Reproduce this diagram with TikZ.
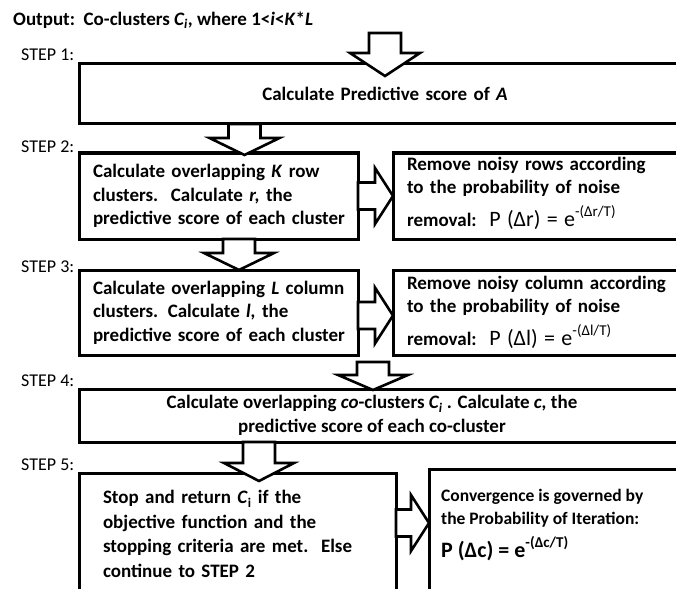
\documentclass[tikz,border=0pt]{standalone}
\usepackage{fontspec}
\setmainfont{Carlito}
\usetikzlibrary{positioning, calc}

\tikzset{
  box/.style={draw, line width=3pt, outer sep=0pt, inner xsep=14pt, align=left,
    font=\bfseries\fontsize{19}{23.5}\selectfont},
  boxtext/.style={inner sep=0pt, font=\bfseries\fontsize{19}{23.5}\selectfont},
  steplabel/.style={anchor=west, inner sep=0pt, font=\fontsize{18}{20}\selectfont},
  blockarrow/.style={draw, fill=white, line width=2.6pt, line join=miter},
}

% hollow block arrows: start point, tip point
\newcommand{\blockdown}[3][18pt]{%
  \draw[blockarrow] let \p1=(#2), \p2=(#3) in
    (\x2-16pt,\y1) -- (\x2-16pt,\y2+#1) -- (\x2-35pt,\y2+#1) -- (\p2)
    -- (\x2+35pt,\y2+#1) -- (\x2+16pt,\y2+#1) -- (\x2+16pt,\y1) -- cycle;}
\newcommand{\blockright}[2]{%
  \draw[blockarrow] let \p1=(#1), \p2=(#2) in
    (\x1,\y2+13.5pt) -- (\x2-18pt,\y2+13.5pt) -- (\x2-18pt,\y2+28pt) -- (\p2)
    -- (\x2-18pt,\y2-28pt) -- (\x2-18pt,\y2-13.5pt) -- (\x1,\y2-13.5pt) -- cycle;}
\newcommand{\probof}[2][\mdseries]{{#1\fontsize{22}{22}\selectfont P (Δ#2) = e\raisebox{10pt}{\fontsize{15}{15}\selectfont -(Δ#2/T)}}}

\begin{document}
\begin{tikzpicture}[x=1pt, y=-1pt]
\useasboundingbox (0,0) rectangle (676,588);
\clip (0,0) rectangle (676,588);

\node[anchor=west, inner sep=0pt, font=\bfseries\fontsize{19}{23}\selectfont] (title) at (13,20)
  {Output:\ \ Co-clusters \textit{C\textsubscript{i}}, where 1<\textit{i}<\textit{K}*\textit{L}};

\foreach \n/\ypos in {1/55,2/147,3/267,4/381,5/465}
  \node[steplabel] (step\n) at (21,\ypos) {STEP \n:};

% boxes
\node[box, anchor=north west, minimum width=612pt, minimum height=60pt, text width=584pt, align=center] (b1) at (79,64)
  {Calculate Predictive score of \textit{A}};
\node[box, below=29pt of b1.south west, anchor=north west, minimum width=279pt, minimum height=86pt, text width=251pt] (b2)
  {\mbox{Calculate overlapping \textit{K} row}\\ \mbox{clusters.\ \ Calculate \textit{r,} the}\\ \mbox{predictive score of each cluster}};
\node[box, right=35pt of b2, minimum width=327pt, minimum height=86pt, text width=299pt] (r2)
  {\mbox{Remove noisy rows according}\\ \mbox{to the probability of noise}\\[8pt] \mbox{removal:\ \ \probof{r}}\rule[-8pt]{0pt}{1pt}};
\node[box, below=31pt of b2.south west, anchor=north west, minimum width=279pt, minimum height=85pt, text width=251pt] (b3)
  {\mbox{Calculate overlapping \textit{L} column}\\ \mbox{clusters. Calculate \textit{l,} the}\\ \mbox{predictive score of each cluster}};
\node[box, right=35pt of b3, minimum width=327pt, minimum height=85pt, text width=299pt] (r3)
  {\mbox{Remove noisy column according}\\ \mbox{to the probability of noise}\\[8pt] \mbox{removal:\ \ \probof{l}}};
\node[box, below=34pt of b3.south west, anchor=north west, minimum width=612pt, minimum height=53pt] (b4) {};
\node[boxtext, align=center] (b4text) at ([xshift=-13pt]b4.center)
  {Calculate overlapping \textit{co}-clusters \textit{C\textsubscript{i}} . Calculate \textit{c,} the\\ predictive score of each co-cluster};
\node[box, below=31pt of b4.south west, anchor=north west, minimum width=317pt, minimum height=122pt,
  inner xsep=24pt, text width=269pt, font=\bfseries\fontsize{19}{24.6}\selectfont] (b5)
  {\mbox{Stop and return \textit{C}\textsubscript{i} if the}\\ \mbox{objective function and the}\\ \mbox{stopping criteria are met.\ \ Else}\\ \mbox{continue to STEP 2}};
\node[box, right=33pt of b5.north east, anchor=north west, yshift=4pt, minimum width=300pt, minimum height=160pt] (r5) {};
\node[anchor=north west, inner sep=0pt, align=left, font=\bfseries\fontsize{17.5}{23}\selectfont] (r5text)
  at ([xshift=12pt,yshift=-20pt]r5.north west)
  {Convergence is governed by\\ the Probability of Iteration:\\[8pt] \probof[\bfseries]{c}};

% arrows
\blockdown[23pt]{[yshift=31pt]b1.north}{[yshift=-12pt]b1.north}
\blockdown[17pt]{b1.south}{[xshift=26pt,yshift=-2pt]b2.north}
\blockdown[17pt]{b2.south}{[xshift=20.5pt]b3.north}
\blockdown[15pt]{[yshift=-7pt]b3.south}{[xshift=-12pt,yshift=-1pt]b4.north}
\blockdown{b4.south}{[xshift=21.5pt,yshift=-8pt]b5.north}
\blockright{b2.east}{r2.west}
\blockright{b3.east}{[yshift=-3pt]r3.west}
\blockright{b5.east}{[yshift=-54pt]r5.north west}
\end{tikzpicture}
\end{document}
